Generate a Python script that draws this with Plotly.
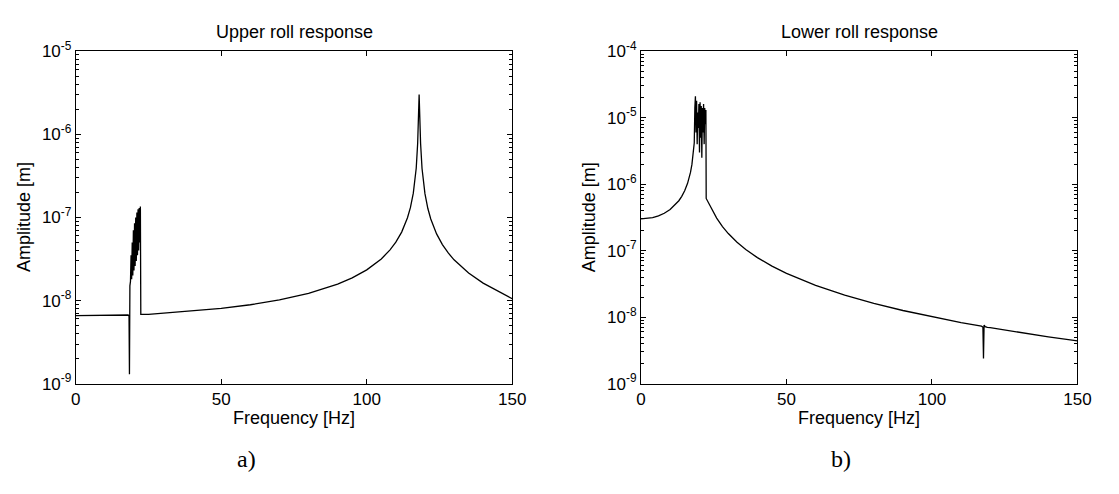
import plotly.graph_objects as go

# ---------------- data ----------------
upper_freq = [0, 5, 10, 15, 18.0, 18.3, 18.45, 18.6, 18.8, 19.0, 19.2, 19.4, 19.6, 19.8,
              20.0, 20.2, 20.4, 20.6, 20.8, 21.0, 21.2, 21.4, 21.6, 21.8, 22.0, 22.2,
              22.35, 25, 30, 40, 50, 60, 70, 80, 90, 95, 100, 105, 108, 110, 112, 114,
              115, 116, 117, 117.5, 118, 118.5, 119, 120, 121, 122, 124, 126, 128, 130,
              135, 140, 145, 150]
upper_amp = [6.6e-9, 6.6e-9, 6.65e-9, 6.7e-9, 6.7e-9, 6.5e-9, 1.3e-9, 1.5e-8, 1.7e-8, 3.5e-8,
             1.8e-8, 5e-8, 2e-8, 7e-8, 2.3e-8, 8.5e-8, 2.6e-8, 1.0e-7, 3e-8, 1.15e-7, 3.5e-8,
             1.25e-7, 4e-8, 1.3e-7, 5e-8, 1.35e-7, 6.8e-9, 6.8e-9, 7.06e-9, 7.46e-9, 8.04e-9,
             8.9e-9, 1.02e-8, 1.22e-8, 1.58e-8, 1.875e-8, 2.34e-8, 3.17e-8, 4.07e-8, 5.04e-8,
             6.66e-8, 9.9e-8, 1.31e-7, 1.96e-7, 3.9e-7, 7.8e-7, 3.0e-6, 7.8e-7, 3.88e-7,
             1.93e-7, 1.28e-7, 9.57e-8, 6.33e-8, 4.71e-8, 3.74e-8, 3.09e-8, 2.14e-8, 1.62e-8,
             1.29e-8, 1.05e-8]

lower_freq = [0, 2, 4, 6, 8, 10, 12, 13, 14, 15, 16, 16.5, 17, 17.5, 18, 18.3, 18.5, 18.7,
              18.9, 19.1, 19.3, 19.5, 19.7, 19.9, 20.1, 20.3, 20.5, 20.7, 20.9, 21.1, 21.3,
              21.5, 21.7, 21.9, 22.1, 22.3, 22.4, 24, 26, 28, 30, 33, 36, 40, 45, 50, 55,
              60, 70, 80, 90, 100, 110, 117, 117.5, 117.7, 117.9, 118.3, 119, 120, 130,
              140, 150]
lower_amp = [3.0e-7, 3.03e-7, 3.14e-7, 3.33e-7, 3.65e-7, 4.15e-7, 4.99e-7, 5.64e-7, 6.56e-7,
             7.96e-7, 1.03e-6, 1.22e-6, 1.5e-6, 1.98e-6, 2.93e-6, 4.2e-6, 1.4e-5, 2.1e-5,
             6e-6, 1.8e-5, 4e-6, 1.2e-5, 7e-6, 1.6e-5, 3e-6, 1.7e-5, 5e-6, 1.5e-5, 2.5e-6,
             1.4e-5, 6e-6, 1.6e-5, 4e-6, 1.4e-5, 8e-6, 1.3e-5, 6.1e-7, 4.53e-7, 3.09e-7,
             2.3e-7, 1.81e-7, 1.34e-7, 1.04e-7, 7.87e-8, 5.86e-8, 4.56e-8, 3.66e-8, 3.01e-8,
             2.15e-8, 1.61e-8, 1.26e-8, 1.01e-8, 8.3e-9, 7.31e-9, 7.1e-9, 2.4e-9, 7.6e-9,
             7.2e-9, 7.0e-9, 6.94e-9, 5.89e-9, 5.07e-9, 4.40e-9]

x_ticks = [0, 50, 100, 150]
upper_exponents = [-9, -8, -7, -6, -5]
lower_exponents = [-9, -8, -7, -6, -5, -4]
titles = ["Upper roll response", "Lower roll response"]
x_label = "Frequency [Hz]"
y_label = "Amplitude [m]"
panel_labels = ["a)", "b)"]

# ---------------- figure ----------------
W, H = 1119, 494
FONT = "Liberation Sans, Arial, sans-serif"


def px(x):
    return x / W


def py(y):
    return 1 - y / H


fig = go.Figure()
fig.add_trace(go.Scatter(x=upper_freq, y=upper_amp, mode="lines",
                         line=dict(color="black", width=1.3), xaxis="x", yaxis="y",
                         showlegend=False))
fig.add_trace(go.Scatter(x=lower_freq, y=lower_amp, mode="lines",
                         line=dict(color="black", width=1.3), xaxis="x2", yaxis="y2",
                         showlegend=False))


def minor_vals(exps):
    vals = []
    for e in exps[:-1]:
        for m in range(2, 10):
            vals.append(m * 10.0 ** e)
    return vals


common_x = dict(range=[0, 150], tickmode="array", tickvals=x_ticks, ticks="inside",
                ticklen=5, tickcolor="black", showline=True, linecolor="black", linewidth=1,
                mirror="ticks", showgrid=False, zeroline=False,
                tickfont=dict(family=FONT, size=17, color="black"))


def ycfg(exps, anchor):
    return dict(type="log", range=[exps[0], exps[-1]], tickmode="array",
                tickvals=[10.0 ** e for e in exps],
                ticktext=["10<sup>%d</sup>" % e for e in exps],
                ticks="inside", ticklen=5, tickcolor="black",
                showline=True, linecolor="black", linewidth=1, mirror="ticks",
                showgrid=False, zeroline=False,
                minor=dict(tickmode="array", tickvals=minor_vals(exps),
                           ticks="inside", ticklen=3, tickcolor="black", showgrid=False),
                tickfont=dict(family=FONT, size=17, color="black"),
                domain=[py(389), py(41)], anchor=anchor)


fig.update_layout(
    width=W, height=H, margin=dict(l=0, r=0, t=0, b=0),
    paper_bgcolor="white", plot_bgcolor="white",
    xaxis=dict(common_x, domain=[px(72), px(516)], anchor="y"),
    yaxis=ycfg(upper_exponents, "x"),
    xaxis2=dict(common_x, domain=[px(647), px(1091)], anchor="y2"),
    yaxis2=ycfg(lower_exponents, "x2"),
)

ann = []
for cx, t in zip([294, 869], titles):
    ann.append(dict(x=px(cx), y=py(21), xref="paper", yref="paper", text=t,
                    showarrow=False, xanchor="center", yanchor="middle",
                    font=dict(family=FONT, size=18, color="black")))
for cx in [294, 869]:
    ann.append(dict(x=px(cx), y=py(425), xref="paper", yref="paper", text=x_label,
                    showarrow=False, xanchor="center", yanchor="middle",
                    font=dict(family=FONT, size=18, color="black")))
for cx in [20, 595]:
    ann.append(dict(x=px(cx), y=py(215), xref="paper", yref="paper", text=y_label,
                    showarrow=False, xanchor="center", yanchor="middle", textangle=-90,
                    font=dict(family=FONT, size=18, color="black")))
for cx, t in zip([246, 850], panel_labels):
    ann.append(dict(x=px(cx), y=py(468), xref="paper", yref="paper", text=t,
                    showarrow=False, xanchor="center", yanchor="middle",
                    font=dict(family="Liberation Serif, Times New Roman, serif", size=24,
                              color="black")))
fig.update_layout(annotations=ann)

fig.write_html("out.html")
